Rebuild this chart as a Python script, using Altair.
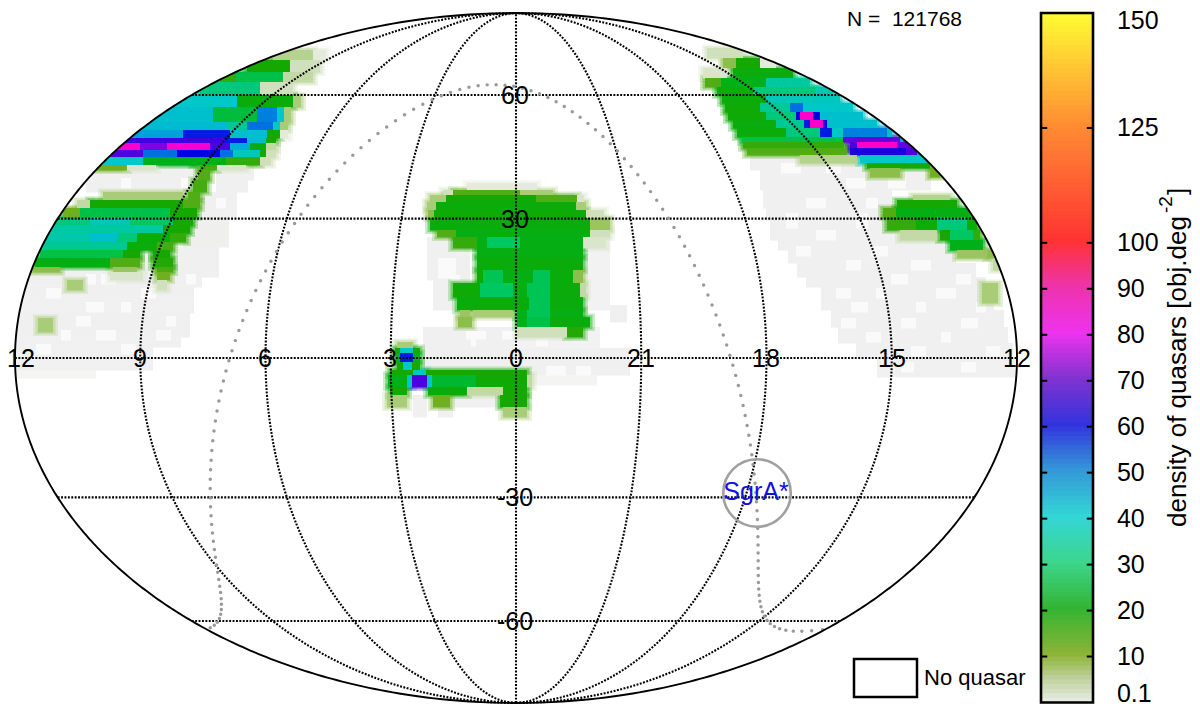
import math
import numpy as np
import pandas as pd
import altair as alt

alt.data_transformers.disable_max_rows()

# Map coordinates: sky_x in [-501, 501], sky_y in [-345, 345] (Mollweide plane).
# Each row: (sky_y top, sky_y bottom, [(sky_x start, sky_x end, density), ...])
FAINT_AREAS = [
    (193, 178, [(-425, -320, 1), (-300, -262, 1)]),
    (178, 166, [(-430, -320, 1), (-300, -268, 1)]),
    (166, 141, [(-316, -279, 1)]),
    (141, 111, [(-333, -287, 1.2)]),
    (111, 81, [(-490, -297, 1)]),
    (81, 71, [(-490, -314, 1)]),
    (71, 45, [(-496, -322, 1)]),
    (45, 21, [(-499, -326, 1)]),
    (21, 11, [(-500, -335, 1)]),
    (11, -12, [(-501, -363, 1)]),
    (-12, -20, [(-501, -420, 0.7)]),
    (203, 188, [(234, 370, 1)]),
    (188, 168, [(244, 415, 1)]),
    (168, 150, [(247, 376, 1)]),
    (150, 138, [(250, 372, 1)]),
    (138, 118, [(254, 384, 1)]),
    (118, 108, [(262, 430, 1)]),
    (108, 95, [(272, 440, 1)]),
    (95, 81, [(281, 460, 1)]),
    (81, 71, [(290, 470, 1)]),
    (71, 48, [(305, 478, 1)]),
    (48, 31, [(315, 488, 1)]),
    (31, 15, [(322, 492, 1)]),
    (15, 1, [(340, 497, 1)]),
    (1, -19, [(361, 500, 1)]),
    (121, 78, [(-89, -46, 1)]),
    (78, 48, [(-83, -63, 1)]),
    (121, 48, [(67, 94, 0.8)]),
    (53, 36, [(94, 111, 1)]),
    (31, 10, [(-93, -1, 1), (1, 84, 0.8)]),
    (10, -17, [(-93, 114, 1)]),
    (-17, -27, [(11, 81, 0.7)]),
    (-37, -59, [(-103, -89, 1), (-78, -63, 1)]),
    (-37, -49, [(-63, -16, 1)]),
]

# Empty cells punched through the faint areas
EMPTY_SPECKS = [
    (180, 170, [(-395, -385, 0), (-335, -325, 0)]),
    (160, 150, [(-300, -290, 0)]),
    (84, 74, [(-415, -400, 0), (-430, -420, 0), (-330, -320, 0)]),
    (70, 60, [(-470, -455, 0), (-375, -360, 0)]),
    (56, 46, [(-430, -412, 0), (-395, -385, 0)]),
    (42, 32, [(-440, -425, 0), (-350, -340, 0)]),
    (28, 18, [(-455, -445, 0), (-420, -400, 0), (-360, -345, 0)]),
    (14, 4, [(-480, -465, 0), (-395, -380, 0)]),
    (100, 80, [(-78, -60, 0)]),
    (83, 75, [(-65, -56, 0)]),
    (27, 19, [(-50, -30, 0), (-14, -2, 0)]),
    (19, 12, [(-45, -40, 0), (20, 32, 0)]),
    (-8, -17, [(30, 50, 0), (60, 75, 0)]),
    (195, 185, [(265, 285, 0), (310, 325, 0)]),
    (180, 170, [(330, 350, 0), (372, 390, 0)]),
    (160, 150, [(290, 310, 0), (350, 362, 0)]),
    (145, 130, [(270, 282, 0), (340, 352, 0)]),
    (128, 118, [(300, 320, 0), (395, 410, 0)]),
    (112, 102, [(280, 295, 0), (355, 372, 0)]),
    (98, 88, [(330, 345, 0), (395, 415, 0)]),
    (84, 74, [(375, 392, 0), (440, 455, 0)]),
    (70, 60, [(320, 335, 0), (360, 370, 0), (420, 440, 0)]),
    (56, 46, [(335, 352, 0), (400, 410, 0), (460, 470, 0)]),
    (40, 30, [(325, 340, 0), (385, 400, 0), (445, 462, 0)]),
    (26, 16, [(350, 365, 0), (425, 435, 0)]),
    (12, 2, [(395, 410, 0), (470, 484, 0)]),
    (-4, -14, [(385, 398, 0), (445, 460, 0)]),
]

NORTH_WEST_PATCH = [
    (308, 298, [(-243, -203, 7), (-203, -190, 3)]),
    (298, 286, [(-269, -226, 18), (-226, -196, 5)]),
    (286, 276, [(-296, -280, 16), (-280, -233, 26), (-233, -203, 6)]),
    (276, 263, [(-316, -256, 30), (-256, -223, 5)]),
    (263, 251, [(-343, -279, 38), (-279, -223, 20), (-223, -215, 8)]),
    (251, 236, [(-366, -303, 40), (-303, -259, 25), (-259, -239, 50), (-239, -232, 38), (-232, -225, 8)]),
    (236, 228, [(-383, -289, 41), (-289, -269, 32), (-269, -243, 52), (-243, -236, 38), (-236, -228, 8)]),
    (228, 220, [(-393, -333, 46), (-333, -286, 58), (-286, -249, 40), (-249, -236, 18), (-236, -228, 3)]),
    (220, 215, [(-393, -290, 65), (-290, -269, 58), (-269, -250, 40), (-250, -240, 18)]),
    (215, 208, [(-399, -376, 85), (-376, -349, 70), (-349, -306, 84), (-306, -286, 66), (-286, -266, 44), (-266, -250, 20), (-250, -240, 6)]),
    (208, 201, [(-406, -373, 66), (-373, -339, 52), (-339, -296, 60), (-296, -283, 52), (-283, -256, 36), (-256, -250, 20), (-250, -240, 5)]),
    (201, 193, [(-413, -373, 38), (-373, -323, 22), (-323, -290, 22), (-290, -256, 16), (-256, -245, 5)]),
    (193, 188, [(-419, -389, 12), (-389, -360, 4), (-316, -299, 15), (-299, -270, 4)]),
    (188, 178, [(-318, -306, 14)]),
    (178, 166, [(-323, -309, 15)]),
    (166, 158, [(-413, -333, 8), (-328, -316, 14)]),
    (158, 150, [(-439, -426, 6), (-426, -333, 18), (-333, -316, 14)]),
    (150, 141, [(-453, -436, 12), (-436, -346, 26), (-346, -319, 18)]),
    (141, 133, [(-462, -426, 30), (-426, -386, 35), (-386, -343, 28), (-343, -323, 18)]),
    (133, 125, [(-465, -353, 33), (-353, -326, 18)]),
    (125, 116, [(-470, -426, 34), (-426, -399, 40), (-399, -379, 30), (-379, -346, 20), (-346, -330, 16)]),
    (116, 108, [(-473, -389, 32), (-389, -359, 20), (-359, -343, 15)]),
    (108, 100, [(-476, -393, 26), (-393, -376, 18), (-363, -346, 18)]),
    (100, 91, [(-481, -406, 21), (-406, -376, 14), (-363, -343, 17)]),
    (91, 86, [(-483, -456, 10), (-403, -379, 9), (-359, -343, 15)]),
    (86, 78, [(-406, -373, 4), (-359, -346, 12)]),
    (78, 68, [(-449, -433, 8), (-359, -349, 5)]),
    (40, 26, [(-478, -463, 8)]),
]

NORTH_EAST_PATCH = [
    (310, 300, [(191, 227, 5)]),
    (300, 290, [(207, 220, 10), (220, 244, 18), (244, 260, 3)]),
    (290, 280, [(187, 211, 4), (217, 277, 20)]),
    (280, 271, [(189, 205, 14), (205, 250, 22), (250, 294, 33)]),
    (271, 263, [(201, 237, 20), (237, 300, 30), (300, 317, 35)]),
    (263, 255, [(206, 250, 20), (250, 324, 36)]),
    (255, 246, [(209, 244, 19), (244, 274, 32), (274, 287, 52), (287, 337, 38)]),
    (246, 238, [(212, 250, 19), (250, 280, 30), (280, 284, 60), (284, 297, 85), (297, 304, 60), (304, 347, 40)]),
    (238, 230, [(217, 260, 20), (260, 288, 32), (288, 294, 58), (294, 307, 85), (307, 311, 62), (311, 361, 40)]),
    (230, 221, [(221, 270, 20), (270, 304, 30), (304, 316, 58), (316, 327, 38), (327, 371, 50), (371, 376, 40)]),
    (221, 216, [(226, 327, 26), (327, 384, 68), (384, 387, 45)]),
    (216, 210, [(227, 328, 16), (334, 341, 66), (341, 381, 85), (381, 394, 68)]),
    (210, 203, [(231, 331, 14), (334, 390, 62), (390, 401, 66)]),
    (203, 195, [(284, 341, 7), (344, 411, 38)]),
    (195, 190, [(351, 414, 18)]),
    (190, 181, [(354, 384, 10), (414, 424, 12)]),
    (163, 158, [(397, 434, 7)]),
    (158, 150, [(381, 441, 18)]),
    (150, 141, [(367, 380, 14), (380, 454, 21)]),
    (141, 128, [(371, 400, 16), (400, 421, 20), (421, 451, 30), (451, 461, 20)]),
    (128, 118, [(384, 421, 6), (424, 434, 18), (434, 457, 28), (457, 464, 16)]),
    (118, 108, [(434, 467, 22)]),
    (108, 100, [(441, 471, 9), (471, 481, 10)]),
    (100, 88, [(477, 484, 6)]),
    (75, 55, [(466, 482, 8)]),
]

CENTRE_PATCH = [
    (175, 168, [(-49, 21, 3)]),
    (168, 163, [(-73, -63, 5), (-63, 4, 14), (4, 37, 8)]),
    (163, 156, [(-86, -70, 8), (-70, 20, 19), (20, 61, 14), (61, 68, 4)]),
    (156, 148, [(-89, -80, 8), (-80, 60, 20), (60, 70, 8)]),
    (148, 140, [(-88, -82, 10), (-82, 70, 19), (70, 88, 5)]),
    (140, 128, [(-86, 74, 20), (74, 94, 9)]),
    (128, 121, [(-79, -60, 14), (-60, 74, 21), (74, 94, 5)]),
    (121, 110, [(-63, -39, 16), (-39, -29, 21), (-29, 4, 28), (4, 67, 21), (67, 90, 4)]),
    (110, 101, [(-39, 67, 21)]),
    (101, 88, [(-39, 67, 20)]),
    (88, 75, [(-39, -33, 19), (-33, -13, 27), (-13, 17, 21), (17, 34, 27), (34, 57, 20), (57, 67, 10)]),
    (75, 61, [(-63, -36, 19), (-36, -3, 28), (-3, 11, 21), (11, 34, 27), (34, 64, 20), (64, 70, 6)]),
    (61, 48, [(-59, 13, 20), (13, 34, 27), (34, 67, 20)]),
    (48, 41, [(-56, -46, 9), (-43, -3, 8), (1, 11, 22), (11, 34, 27), (34, 67, 21)]),
    (41, 31, [(-58, -44, 10), (1, 11, 22), (11, 34, 26), (34, 74, 20)]),
    (31, 21, [(1, 51, 5), (51, 67, 17)]),
]

EQUATOR_PATCH = [
    (16, 10, [(-119, -103, 8)]),
    (10, 5, [(-121, -116, 18), (-116, -103, 38), (-103, -96, 18)]),
    (5, -4, [(-120, -116, 22), (-116, -103, 58), (-103, -96, 22)]),
    (-4, -12, [(-119, -113, 18), (-113, -104, 38), (-104, -96, 18)]),
    (-12, -17, [(-126, -103, 18), (-103, -90, 38), (-90, 11, 18)]),
    (-17, -29, [(-128, -109, 22), (-109, -104, 38), (-104, -89, 66), (-89, -84, 38), (-84, -40, 24), (-40, 11, 19), (11, 16, 6)]),
    (-29, -37, [(-126, -109, 18), (-88, -49, 20), (-49, -13, 6), (-13, 11, 18)]),
    (-37, -49, [(-129, -109, 8), (-83, -66, 12), (-16, 11, 18)]),
    (-49, -59, [(-13, 11, 8)]),
]

RA_LABELS = ["12", "9", "6", "3", "0", "21", "18", "15", "12"]
RA_LABEL_X = [-495, -376, -251, -126, 0, 125, 250, 376, 501]
DEC_LABELS = ["60", "30", "-30", "-60"]
DEC_LABEL_DEGREES = [60, 30, -30, -60]
BAR_TICKS = [10, 20, 30, 40, 50, 60, 70, 80, 90, 100, 125]
BAR_LABELS = ["0.1", "10", "20", "30", "40", "50", "60", "70", "80", "90", "100", "125", "150"]
BAR_LABEL_AT = [1.85, 10, 20, 30, 40, 50, 60, 70, 80, 90, 100, 125, 148.3]

MAP_DENSITY = [0, 0.5, 1, 3, 5, 8, 12, 18, 22, 28, 33, 38, 45, 52, 60, 70, 80, 85, 100, 125, 150]
MAP_COLOURS = ["#fafafa", "#f6f6f4", "#f0f0f0", "#e4eadc", "#d0e0bc", "#a8cc78", "#70b020", "#14a800",
               "#00b018", "#00c860", "#00c8a0", "#00c8c8", "#00a8d8", "#0070e0", "#0000e0", "#8000e0",
               "#e000e8", "#ff00c8", "#ff2020", "#ff8c00", "#ffff00"]
BAR_DENSITY = [0, 5, 10, 20, 30, 40, 50, 60, 70, 80, 90, 100, 125, 150]
BAR_COLOURS = ["#e6ebe0", "#bccf98", "#8cb436", "#33b433", "#3cd68c", "#33d6d6", "#3498d8", "#3333dd",
               "#8033d0", "#ee33ee", "#ee33aa", "#ff3333", "#ff8c33", "#ffff33"]

A, B = 501.0, 345.0
x_map = alt.Scale(domain=[-A, A], range=[7, 1009])
y_map = alt.Scale(domain=[-B, B], range=[695, 5])
x_bar = alt.Scale(domain=[0, 1], range=[1033, 1085])
y_bar = alt.Scale(domain=[0, 150], range=[694.5, 5])
map_colour = alt.Scale(domain=MAP_DENSITY, range=MAP_COLOURS, interpolate="rgb")


def half_width(y):
    return A * math.sqrt(max(0.0, 1 - (y / B) ** 2))


def cells_from(rows, grow_x=0.0, grow_y=0.0):
    out = []
    for top, bottom, spans in rows:
        top, bottom = top + grow_y, bottom - grow_y
        limit = half_width(max(abs(top), abs(bottom))) - 2
        near_edge = any(abs(s[0]) + grow_x > limit or abs(s[1]) + grow_x > limit for s in spans)
        cuts = max(1, int((top - bottom) / 1.5)) if near_edge else 1
        for k in range(cuts):
            t = top + (bottom - top) * k / cuts
            b = top + (bottom - top) * (k + 1) / cuts
            w = half_width((t + b) / 2)
            for x0, x1, v in spans:
                l, r = max(x0 - grow_x, -w), min(x1 + grow_x, w)
                if r > l:
                    out.append({"x": l, "x2": r, "y": t, "y2": b - 0.5, "v": v})
    return out


def cell_layer(rows, grow_x=0.0, grow_y=0.0, opacity=1.0):
    return alt.Chart(pd.DataFrame(cells_from(rows, grow_x, grow_y))).mark_rect(strokeWidth=0, opacity=opacity).encode(
        x=alt.X("x:Q", scale=x_map, axis=None),
        x2="x2:Q",
        y=alt.Y("y:Q", scale=y_map, axis=None),
        y2="y2:Q",
        color=alt.Color("v:Q", scale=map_colour, legend=None),
    )


def theta_of(lat_deg):
    lat = math.radians(lat_deg)
    if abs(lat_deg) >= 90:
        return math.copysign(math.pi / 2, lat_deg)
    t = lat
    for _ in range(60):
        t -= (2 * t + math.sin(2 * t) - math.pi * math.sin(lat)) / (2 + 2 * math.cos(2 * t))
    return t


def mollweide(lon_deg, lat_deg):
    t = theta_of(lat_deg)
    return A * lon_deg / 180 * math.cos(t), B * math.sin(t)


# graticule
grid = []
for h in [-135, -90, -45, 0, 45, 90, 135]:
    for i, lat in enumerate(np.linspace(-90, 90, 181)):
        x, y = mollweide(h, lat)
        grid.append({"id": f"m{h}", "i": i, "x": x, "y": y})
for lat in [60, 30, 0, -30, -60]:
    for i, lon in enumerate([-180, 180]):
        x, y = mollweide(lon, lat)
        grid.append({"id": f"p{lat}", "i": i, "x": x, "y": y})

outline = []
for side in [-180, 180]:
    for i, lat in enumerate(np.linspace(-90, 90, 361)):
        x, y = mollweide(side, lat)
        outline.append({"id": str(side), "i": i, "x": x, "y": y})

# galactic plane: b = 0 circle, J2000 pole; right ascension grows to the left of the map
plane = []
ag, dg, ln = math.radians(192.85948), math.radians(27.12825), math.radians(122.93192)
for l in np.arange(0, 360, 2.4):
    d = ln - math.radians(l)
    dec = math.asin(math.cos(dg) * math.cos(d))
    ra = ag + math.atan2(math.sin(d), -math.sin(dg) * math.cos(d))
    lon = (math.degrees(ra) + 180) % 360 - 180
    x, y = mollweide(-lon, math.degrees(dec))
    plane.append({"x": x, "y": y})


def line_layer(rows, **style):
    return alt.Chart(pd.DataFrame(rows)).mark_line(**style).encode(
        x=alt.X("x:Q", scale=x_map, axis=None),
        y=alt.Y("y:Q", scale=y_map, axis=None),
        detail="id:N",
        order="i:Q",
    )


patches = NORTH_WEST_PATCH + NORTH_EAST_PATCH + CENTRE_PATCH + EQUATOR_PATCH
faint = FAINT_AREAS + EMPTY_SPECKS

grid_layer = line_layer(grid, color="#000000", strokeWidth=2.1, strokeDash=[1.9, 1.5])
outline_layer = line_layer(outline, color="#000000", strokeWidth=1.9)
plane_layer = alt.Chart(pd.DataFrame(plane)).mark_point(filled=True, color="#999999", size=12, opacity=1).encode(
    x=alt.X("x:Q", scale=x_map, axis=None),
    y=alt.Y("y:Q", scale=y_map, axis=None),
)


def text_layer(rows, **style):
    return alt.Chart(pd.DataFrame(rows)).mark_text(font="Liberation Sans", baseline="middle", **style).encode(
        x=alt.X("x:Q", scale=x_map, axis=None),
        y=alt.Y("y:Q", scale=y_map, axis=None),
        text="t:N",
    )


ra_labels = text_layer([{"x": x, "y": -1, "t": t} for x, t in zip(RA_LABEL_X, RA_LABELS)], fontSize=25, align="center")
dec_labels = text_layer([{"x": -1, "y": mollweide(0, d)[1] - 1, "t": t} for d, t in zip(DEC_LABEL_DEGREES, DEC_LABELS)],
                        fontSize=25, align="center")
count_label = text_layer([{"x": 331, "y": 338, "t": "N =\u00a0 121768"}], fontSize=21, align="left")
nq_label = text_layer([{"x": 408, "y": -320, "t": "No quasar"}], fontSize=22, align="left")
sgr_label = text_layer([{"x": 240, "y": -134, "t": "SgrA*"}], fontSize=25, align="center", color="#1010e0")

sgr_circle = alt.Chart(pd.DataFrame([{"x": 241, "y": -135}])).mark_point(
    shape="circle", filled=False, color="#a0a0a0", size=4556, strokeWidth=2.6, opacity=1
).encode(
    x=alt.X("x:Q", scale=x_map, axis=None),
    y=alt.Y("y:Q", scale=y_map, axis=None),
)
nq_box = alt.Chart(pd.DataFrame([{"x": 338, "x2": 401, "y": -301, "y2": -339}])).mark_rect(
    fill="#ffffff", stroke="#000000", strokeWidth=2.5
).encode(
    x=alt.X("x:Q", scale=x_map, axis=None),
    x2="x2:Q",
    y=alt.Y("y:Q", scale=y_map, axis=None),
    y2="y2:Q",
)

# colour bar
levels = pd.DataFrame({"v": np.arange(0, 150, 1.0)})
levels["v2"] = np.minimum(levels["v"] + 1.6, 150)
levels["x"] = 0.0
levels["x2"] = 1.0
bar_layer = alt.Chart(levels).mark_rect(strokeWidth=0).encode(
    x=alt.X("x:Q", scale=x_bar, axis=None),
    x2="x2:Q",
    y=alt.Y("v:Q", scale=y_bar, axis=None),
    y2="v2:Q",
    color=alt.Color("v:Q", scale=alt.Scale(domain=BAR_DENSITY, range=BAR_COLOURS, interpolate="rgb"), legend=None),
)
bar_ticks = alt.Chart(pd.DataFrame(
    [{"x": 0, "x2": 0.12, "v": v} for v in BAR_TICKS] + [{"x": 0.88, "x2": 1, "v": v} for v in BAR_TICKS]
)).mark_rule(color="#000000", strokeWidth=2).encode(
    x=alt.X("x:Q", scale=x_bar, axis=None),
    x2="x2:Q",
    y=alt.Y("v:Q", scale=y_bar, axis=None),
)
bar_frame = alt.Chart(pd.DataFrame([{"x": 0, "x2": 1, "v": 0, "v2": 150}])).mark_rect(
    fill=None, stroke="#000000", strokeWidth=2.6
).encode(
    x=alt.X("x:Q", scale=x_bar, axis=None),
    x2="x2:Q",
    y=alt.Y("v:Q", scale=y_bar, axis=None),
    y2="v2:Q",
)
bar_text = alt.Chart(pd.DataFrame({"v": BAR_LABEL_AT, "t": BAR_LABELS, "x": [1.46] * len(BAR_LABELS)})).mark_text(
    font="Liberation Sans", fontSize=25, align="left", baseline="middle"
).encode(
    x=alt.X("x:Q", scale=x_bar, axis=None),
    y=alt.Y("v:Q", scale=y_bar, axis=None),
    text="t:N",
)


def title_piece(v, x, text, size):
    return alt.Chart(pd.DataFrame([{"v": v, "x": x, "t": text}])).mark_text(
        font="Liberation Sans", align="left", baseline="alphabetic", angle=270, fontSize=size
    ).encode(
        x=alt.X("x:Q", scale=x_bar, axis=None),
        y=alt.Y("v:Q", scale=y_bar, axis=None),
        text="t:N",
    )


chart = alt.layer(
    cell_layer(faint),
    cell_layer(patches, 5, 3.5, 0.22),
    cell_layer(patches, 2.5, 1.8, 0.4),
    cell_layer(patches),
    grid_layer, plane_layer, outline_layer, ra_labels, dec_labels, count_label,
    sgr_circle, sgr_label, nq_box, nq_label,
    bar_layer, bar_ticks, bar_frame, bar_text,
    title_piece(38.2, 2.79, "density of quasars [obj.deg", 26),
    title_piece(106.5, 2.52, "-2", 19),
    title_piece(110.4, 2.79, "]", 26),
).resolve_scale(x="independent", y="independent", color="independent").properties(
    width=1184, height=699, padding=0, autosize=alt.AutoSizeParams(type="none"),
).configure_view(stroke=None)

chart.save("out.html", embed_options={"renderer": "svg", "actions": False})
